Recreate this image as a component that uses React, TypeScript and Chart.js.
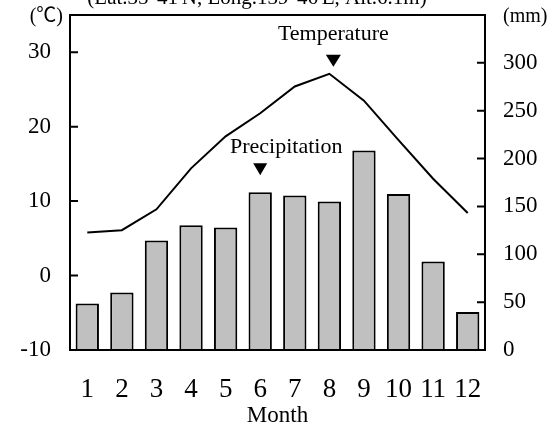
import { useEffect, useRef } from "react";
import { Chart, registerables } from "chart.js";

Chart.register(...registerables);

const months = ["1", "2", "3", "4", "5", "6", "7", "8", "9", "10", "11", "12"];
const temperature = [5.8, 6.1, 8.9, 14.4, 18.7, 21.8, 25.4, 27.1, 23.5, 18.2, 13.0, 8.4];
const precipitation = [48.6, 60.2, 114.5, 130.3, 128.0, 164.9, 161.5, 155.1, 208.5, 163.1, 92.5, 39.6];
const tempTicks = [-10, 0, 10, 20, 30];
const precipTicks = [0, 50, 100, 150, 200, 250, 300];

const topTitle = "(Lat.35°41'N, Long.139°46'E, Alt.6.1m)";
const leftUnit = "(℃)";
const rightUnit = "(mm)";
const tempLabel = "Temperature";
const precipLabel = "Precipitation";
const xTitle = "Month";

const SERIF = "'Liberation Serif', 'Times New Roman', serif";

const decorPlugin = {
  id: "decor",
  afterDraw(chart: any) {
    const { ctx, chartArea } = chart;
    const { left, right, top, bottom } = chartArea;
    const ys = chart.scales.y;
    const ys1 = chart.scales.y1;
    const xs = chart.scales.x;
    ctx.save();
    ctx.strokeStyle = "#000";
    ctx.fillStyle = "#000";
    ctx.lineWidth = 2;
    // frame
    ctx.strokeRect(left, top, right - left, bottom - top);
    // inner ticks
    ctx.beginPath();
    tempTicks.forEach((v) => {
      const y = ys.getPixelForValue(v);
      ctx.moveTo(left, y);
      ctx.lineTo(left + 8, y);
    });
    precipTicks.forEach((v) => {
      const y = ys1.getPixelForValue(v);
      ctx.moveTo(right - 8, y);
      ctx.lineTo(right, y);
    });
    ctx.stroke();

    // texts
    ctx.textBaseline = "alphabetic";
    ctx.font = `21px ${SERIF}`;
    ctx.textAlign = "center";
    ctx.fillText(topTitle, 257, 4);

    ctx.font = `20px ${SERIF}, 'Noto Sans CJK JP'`;
    ctx.textAlign = "right";
    ctx.fillText(leftUnit, 63, 22);
    ctx.font = `20px ${SERIF}`;
    ctx.textAlign = "left";
    ctx.fillText(rightUnit, 503, 22);

    // annotations
    const tx = xs.getPixelForValue(7) + 4;
    const ty = ys.getPixelForValue(temperature[7]);
    ctx.font = `22px ${SERIF}`;
    ctx.textAlign = "center";
    ctx.fillText(tempLabel, tx, ty - 34);
    ctx.beginPath();
    ctx.moveTo(tx - 7.5, ty - 19);
    ctx.lineTo(tx + 7.5, ty - 19);
    ctx.lineTo(tx, ty - 7);
    ctx.closePath();
    ctx.fill();

    const px = xs.getPixelForValue(5);
    const py = ys1.getPixelForValue(precipitation[5]);
    ctx.fillText(precipLabel, px + 26, py - 39);
    ctx.beginPath();
    ctx.moveTo(px - 7, py - 29);
    ctx.lineTo(px + 7, py - 29);
    ctx.lineTo(px, py - 17);
    ctx.closePath();
    ctx.fill();
    ctx.restore();
  },
};

export default function App() {
  const ref = useRef<HTMLCanvasElement | null>(null);
  useEffect(() => {
    if (!ref.current) return;
    const chart = new Chart(ref.current, {
      type: "bar",
      data: {
        labels: months,
        datasets: [
          {
            type: "line",
            label: "Temperature",
            data: temperature,
            yAxisID: "y",
            borderColor: "#000",
            borderWidth: 2,
            pointRadius: 0,
            tension: 0,
            fill: false,
            order: 0,
          } as any,
          {
            type: "bar",
            label: "Precipitation",
            data: precipitation,
            yAxisID: "y1",
            backgroundColor: "#c0c0c0",
            borderColor: "#000",
            borderWidth: 2,
            barPercentage: 0.675,
            categoryPercentage: 1,
            order: 1,
          },
        ],
      },
      options: {
        animation: false,
        responsive: true,
        maintainAspectRatio: false,
        layout: { padding: { top: 15, left: 0, right: 0, bottom: 0 } },
        plugins: { legend: { display: false }, tooltip: { enabled: false } },
        scales: {
          x: {
            type: "category",
            offset: true,
            grid: { display: false, drawTicks: false },
            border: { display: false },
            ticks: { color: "#000", font: { family: SERIF, size: 27 }, padding: 24, maxRotation: 0, autoSkip: false },
            title: { display: true, text: xTitle, color: "#000", font: { family: SERIF, size: 23 }, padding: { top: 0, bottom: 0 } },
            afterFit: (s: any) => {
              s.height = 80;
              s.paddingLeft = 0;
              s.paddingRight = 0;
            },
          },
          y: {
            type: "linear",
            position: "left",
            min: -10,
            max: 35,
            grid: { display: false, drawTicks: false },
            border: { display: false },
            ticks: { color: "#000", font: { family: SERIF, size: 23 }, padding: 19 },
            afterBuildTicks: (s: any) => {
              s.ticks = tempTicks.map((v) => ({ value: v }));
            },
            afterFit: (s: any) => {
              s.width = 70;
              s.paddingTop = 0;
              s.paddingBottom = 0;
            },
          },
          y1: {
            type: "linear",
            position: "right",
            min: 0,
            max: 350,
            grid: { display: false, drawTicks: false },
            border: { display: false },
            ticks: { color: "#000", font: { family: SERIF, size: 23 }, padding: 18 },
            afterBuildTicks: (s: any) => {
              s.ticks = precipTicks.map((v) => ({ value: v }));
            },
            afterFit: (s: any) => {
              s.width = 69;
              s.paddingTop = 0;
              s.paddingBottom = 0;
            },
          },
        },
      },
      plugins: [decorPlugin],
    });
    return () => chart.destroy();
  }, []);
  return (
    <div style={{ position: "fixed", left: 0, top: 0, width: 554, height: 430, background: "#fff" }}>
      <canvas ref={ref} />
    </div>
  );
}
